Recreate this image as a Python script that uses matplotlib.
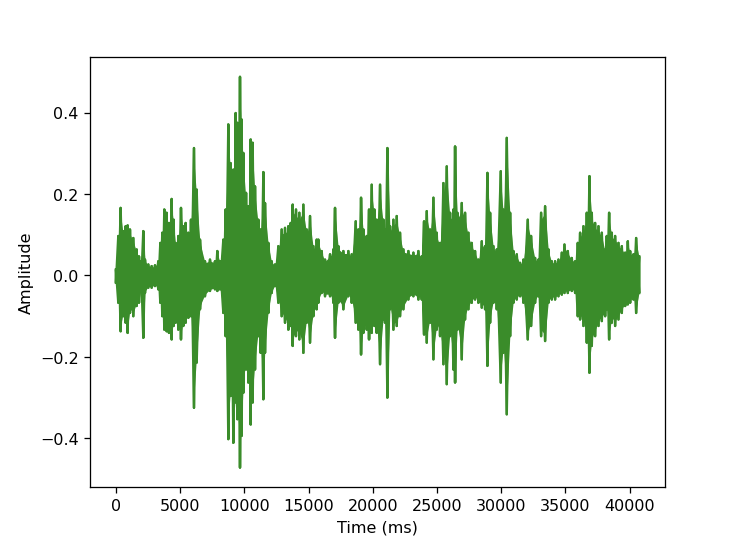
import numpy as np
import matplotlib
matplotlib.use('Agg')
import matplotlib.pyplot as plt
from matplotlib.ticker import MultipleLocator

# envelope of the waveform: time (ms), upper peak, lower peak
time_ms = [
    0, 182, 364, 571, 753, 909, 1091, 1350, 1609, 1791, 1947, 2129, 2259,
    2519, 2778, 3038, 3298, 3454, 3609, 3765, 3947, 4128, 4336, 4492, 4647,
    4855, 5063, 5245, 5427, 5634, 5842, 6076, 6284, 6544, 6932, 7322,
    7711, 7893, 8101, 8361, 8543, 8749, 8931, 9139, 9321, 9451, 9658,
    9788, 9918, 10126, 10308, 10490, 10645, 10827, 11087, 11268, 11476,
    11606, 11865, 12125, 12385, 12645, 12904, 13164, 13424, 13606, 13761,
    14020, 14280, 14592, 14851, 15111, 15371, 15631,
    15760, 16020, 16280, 16670, 16928, 17058, 17318, 17708, 18097, 18357,
    18669, 18876, 19084, 19266, 19525, 19707, 19914, 20122, 20304, 20564,
    20823, 20953, 21135, 21343, 21603, 21862, 22121, 22381, 22771, 23160,
    23550, 23810, 23991,
    24199, 24459, 24719, 24978, 25237, 25497, 25757, 26016, 26276, 26406,
    26588, 26925, 27185, 27445, 27704, 27963, 28223, 28483, 28743, 28924,
    29132, 29392, 29652, 29963, 30171, 30430, 30690, 30949, 31209, 31469,
    31729,
    32066, 32326, 32638, 32898, 33105, 33416, 33676, 33936, 34195, 34455,
    34715, 34923, 35182, 35494, 35754, 35961, 36142, 36402, 36662, 36870,
    37051, 37311, 37571, 37831, 38090, 38220, 38401, 38609, 38869, 39128,
    39388, 39648, 39856, 40037, 40297, 40505, 40741]

upper = [
    0.015, 0.097, 0.166, 0.109, 0.121, 0.123, 0.113, 0.092, 0.064, 0.047,
    0.035, 0.109, 0.039, 0.027, 0.023, 0.025, 0.035, 0.080, 0.105, 0.162,
    0.154, 0.129, 0.188, 0.137, 0.080, 0.097, 0.166, 0.121, 0.129, 0.105,
    0.137, 0.313, 0.211, 0.088, 0.035, 0.039,
    0.035, 0.060, 0.035, 0.088, 0.162, 0.371, 0.276, 0.260, 0.399, 0.375,
    0.488, 0.383, 0.301, 0.203, 0.170, 0.334, 0.326, 0.219, 0.137, 0.113,
    0.254, 0.178, 0.080, 0.035, 0.027, 0.072, 0.113, 0.117, 0.121, 0.129,
    0.174, 0.162, 0.154, 0.174, 0.113, 0.146, 0.072, 0.088,
    0.088, 0.060, 0.039, 0.052, 0.064, 0.166, 0.072, 0.060, 0.060, 0.052,
    0.133, 0.113, 0.191, 0.113, 0.097, 0.162, 0.223, 0.162, 0.137, 0.223,
    0.137, 0.113, 0.313, 0.121, 0.137, 0.146, 0.105, 0.064, 0.060, 0.056,
    0.060, 0.047, 0.133,
    0.158, 0.113, 0.191, 0.105, 0.080, 0.227, 0.268, 0.154, 0.162, 0.317,
    0.154, 0.178, 0.154, 0.105, 0.080, 0.060, 0.039, 0.084, 0.072, 0.252,
    0.154, 0.072, 0.064, 0.256, 0.162, 0.338, 0.154, 0.060, 0.052, 0.031,
    0.039,
    0.137, 0.097, 0.043, 0.039, 0.154, 0.170, 0.064, 0.035, 0.035, 0.039,
    0.056, 0.076, 0.060, 0.043, 0.035, 0.080, 0.105, 0.121, 0.154, 0.244,
    0.154, 0.129, 0.121, 0.105, 0.064, 0.097, 0.154, 0.105, 0.097, 0.080,
    0.072, 0.056, 0.084, 0.060, 0.052, 0.092, 0.047]

lower = [
    -0.018, -0.067, -0.137, -0.100, -0.116, -0.141, -0.092, -0.100, -0.075,
    -0.067, -0.038, -0.153, -0.043, -0.030, -0.030, -0.026, -0.034, -0.067,
    -0.100, -0.133, -0.137, -0.141, -0.157, -0.124, -0.116, -0.133, -0.157,
    -0.124, -0.116, -0.104, -0.100, -0.325, -0.214, -0.083, -0.051, -0.038,
    -0.034, -0.038, -0.034, -0.092, -0.149, -0.402, -0.296, -0.411, -0.312,
    -0.353, -0.472, -0.394, -0.288, -0.231, -0.263, -0.366, -0.312, -0.231,
    -0.149, -0.190, -0.304, -0.190, -0.092, -0.043, -0.026, -0.067, -0.100,
    -0.116, -0.133, -0.124, -0.173, -0.149, -0.157, -0.190, -0.116, -0.165,
    -0.100, -0.083,
    -0.067, -0.043, -0.051, -0.051, -0.067, -0.153, -0.067, -0.083, -0.051,
    -0.067, -0.116, -0.133, -0.194, -0.141, -0.133, -0.157, -0.141, -0.124,
    -0.141, -0.218, -0.108, -0.116, -0.300, -0.083, -0.133, -0.124, -0.100,
    -0.083, -0.059, -0.051, -0.059, -0.059, -0.145,
    -0.165, -0.116, -0.206, -0.133, -0.149, -0.218, -0.267, -0.149, -0.231,
    -0.263, -0.133, -0.206, -0.108, -0.083, -0.067, -0.059, -0.067, -0.079,
    -0.083, -0.222, -0.116, -0.067, -0.083, -0.263, -0.190, -0.341, -0.149,
    -0.067, -0.059, -0.051, -0.067,
    -0.157, -0.124, -0.067, -0.051, -0.149, -0.161, -0.067, -0.059, -0.059,
    -0.051, -0.047, -0.043, -0.043, -0.038, -0.043, -0.100, -0.108, -0.124,
    -0.165, -0.239, -0.173, -0.149, -0.124, -0.112, -0.100, -0.083, -0.157,
    -0.116, -0.124, -0.108, -0.092, -0.075, -0.071, -0.067, -0.059, -0.092,
    -0.043]

wave_color = '#3a8c2a'

t = np.asarray(time_ms, dtype=float)
up = np.asarray(upper)
lo = np.asarray(lower)

# zigzag between the peaks so the band looks like a dense waveform
xs = np.repeat(t, 2)
ys = np.empty(2 * len(t))
ys[0::2] = up
ys[1::2] = lo
ys2 = np.empty(2 * len(t))
ys2[0::2] = lo
ys2[1::2] = up

fig, ax = plt.subplots(figsize=(6.4, 4.72), dpi=115)
fig.subplots_adjust(left=0.122, right=0.904, top=0.893, bottom=0.101)
ax.fill_between(t, lo * 0.9, up * 0.9, color=wave_color, linewidth=0)
ax.plot(xs, ys, color=wave_color)
ax.plot(xs, ys2, color=wave_color)
ax.xaxis.set_major_locator(MultipleLocator(5000))
ax.set_xlabel('Time (ms)')
ax.set_ylabel('Amplitude')
fig.savefig('out.png', dpi=115)
